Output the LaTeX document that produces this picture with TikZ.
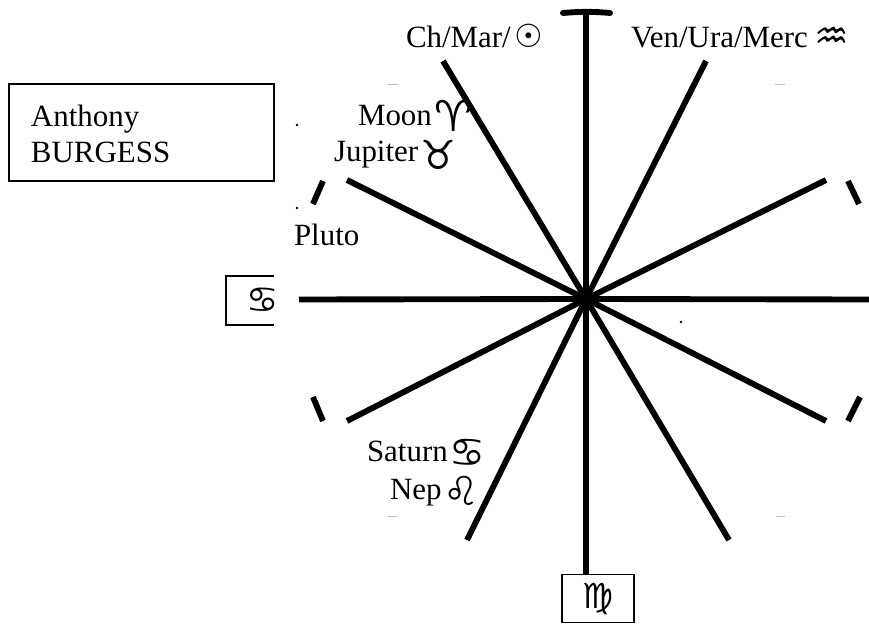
\documentclass[tikz,border=0pt]{standalone}
\usepackage{fontspec}
\setmainfont{Liberation Serif}
\newfontfamily\symfont{DejaVu Sans}
% size, right shift (px), drop (px), glyph
\newcommand{\zz}[4]{\kern#2\dimexpr0.75pt\relax\raisebox{-#3\dimexpr0.75pt\relax}{\symfont\fontsize{#1}{#1}\selectfont #4}}
\tikzset{
  spoke/.style={line width=4.4pt,line cap=butt},
  tick/.style={line width=4.4pt,line cap=butt},
  frame/.style={line width=0.9pt,draw=black},
  faint/.style={line width=0.6pt,draw=black!25},
  lab/.style={anchor=base west,inner sep=0pt,outer sep=0pt,font=\fontsize{23.2}{27}\selectfont},
  speck/.style={circle,fill=black,inner sep=0pt,minimum size=2.2pt}
}
\begin{document}
\begin{tikzpicture}[x=0.75pt,y=-0.75pt]
\useasboundingbox (0,0) rectangle (869,624);
\coordinate (c) at (586,299);
\coordinate (top) at (586,13);
\coordinate (barL) at (563,13);
\coordinate (barR) at (610,13);
\coordinate (a1) at (706,61);
\coordinate (a2) at (826,180);
\coordinate (a3) at (869,299.5);
\coordinate (a4) at (826,421);
\coordinate (a5) at (729,540);
\coordinate (a7) at (467,540);
\coordinate (a8) at (347,421);
\coordinate (a9) at (299,299.5);
\coordinate (a10) at (347,180);
\coordinate (a11) at (443,61);
% boxes
\node[frame,rectangle,minimum width=265*0.75pt,minimum height=97*0.75pt,inner sep=0pt] (name) at (141.5,132.5) {};
\node[lab,align=left] (nameA) at (31,127) {Anthony};
\node[lab,align=left] (nameB) at (31,163) {BURGESS};
\node[frame,rectangle,fill=white,minimum width=72*0.75pt,minimum height=48*0.75pt,inner sep=0pt] (virgo) at (598,598.5) {\zz{26}{0}{2}{♍}};
% spokes
\foreach \e in {a1,a2,a3,a4,a5,a7,a8,a9,a10,a11}
  \draw[spoke] (c) -- (\e);
\draw[spoke] (c) -- (top);
\draw[spoke] (c) -- (virgo.north -| c);
\draw[spoke,line cap=round] (barL) .. controls (580,11.5) and (594,11.5) .. (barR);
% short ticks
\draw[tick] (323,181) -- (313,204);
\draw[tick] (848,181) -- (859,204);
\draw[tick] (313,397) -- (323,421);
\draw[tick] (860,397) -- (848,421);
% faint dashes
\draw[faint] (388,84) -- (398,84);
\draw[faint] (775,84) -- (785,84);
\draw[faint] (388,516) -- (397,516);
\draw[faint] (776,516) -- (785,516);
% specks
\node[speck] (d1) at (297,125) {};
\node[speck] (d2) at (297,208) {};
\node[speck] (d3) at (681,322) {};
% open Cancer box
\draw[frame] (274,276) -- (226,276) -- (226,325) -- (274,325);
\begin{scope}
\clip (226,270) rectangle (274,330);
\node[inner sep=0pt] (cancer) at (263,300) {\zz{27}{0}{0}{♋}};
\end{scope}
% labels
\node[lab] (ch) at (406,48) {Ch/Mar/\zz{24}{4}{0}{☉}};
\node[lab] (ven) at (631,48) {Ven/Ura/Merc\zz{29}{7}{2}{♒}};
\node[lab] (moon) at (358,126) {Moon\zz{32}{3}{6}{♈}};
\node[lab] (jup) at (334,162) {Jupiter\zz{30}{2}{8}{♉}};
\node[lab] (pluto) at (294,246) {Pluto};
\node[lab] (sat) at (367,462) {Saturn\zz{30}{2}{4}{♋}};
\node[lab] (nep) at (390,499) {Nep\zz{30}{2}{6}{♌}};
\end{tikzpicture}
\end{document}
